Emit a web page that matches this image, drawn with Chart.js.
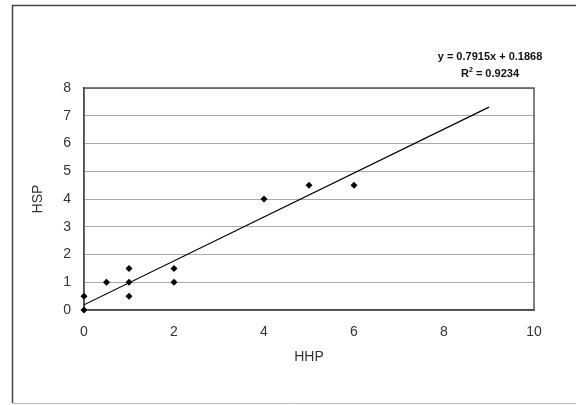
<!DOCTYPE html>
<html>
<head>
<meta charset="utf-8">
<script src="https://cdn.jsdelivr.net/npm/chart.js@4/dist/chart.umd.min.js"></script>
<style>
  html, body { margin: 0; padding: 0; background: #fff; }
  #wrap { width: 576px; height: 405px; position: relative; }
</style>
</head>
<body>
<div id="wrap"><canvas id="myChart"></canvas></div>
<script>
// observed points (HHP, HSP)
const hhp = [0, 0, 0.5, 1, 1, 1, 2, 2, 4, 5, 6];
const hsp = [0, 0.5, 1, 1.5, 1, 0.5, 1.5, 1, 4, 4.5, 4.5];

// fitted line as printed on the chart
const slope = 0.7915;
const intercept = 0.1868;
const r2 = 0.9234;
const trendX = [0, 9];

const xTicks = [0, 2, 4, 6, 8, 10];
const yTicks = [0, 1, 2, 3, 4, 5, 6, 7, 8];

const points = hhp.map((x, i) => ({ x: x, y: hsp[i] }));
const trend = trendX.map(x => ({ x: x, y: slope * x + intercept }));

const FONT = '"Liberation Sans", Arial, sans-serif';

// outer frame, plot box and the equation label
const decor = {
  id: 'decor',
  beforeDraw(c) {
    const ctx = c.ctx;
    ctx.save();
    ctx.fillStyle = '#fff';
    ctx.fillRect(0, 0, c.width, c.height);
    ctx.strokeStyle = '#444';
    ctx.lineWidth = 1.5;
    ctx.beginPath();
    ctx.moveTo(12.5, 403);
    ctx.lineTo(12.5, 5.5);
    ctx.lineTo(590, 5.5);
    ctx.stroke();
    ctx.strokeStyle = '#bbb';
    ctx.lineWidth = 1;
    ctx.beginPath();
    ctx.moveTo(12.5, 403.5);
    ctx.lineTo(590, 403.5);
    ctx.stroke();
    ctx.restore();
  },
  beforeDatasetsDraw(c) {
    const ctx = c.ctx;
    const a = c.chartArea;
    ctx.save();
    ctx.strokeStyle = '#555';
    ctx.lineWidth = 1.5;
    ctx.strokeRect(a.left, a.top, a.right - a.left, a.bottom - a.top);
    ctx.restore();
  },
  afterDatasetsDraw(c) {
    const ctx = c.ctx;
    ctx.save();
    ctx.fillStyle = '#111';
    ctx.font = 'bold 11px ' + FONT;
    ctx.textBaseline = 'middle';
    ctx.textAlign = 'center';
    ctx.fillText('y = ' + slope + 'x + ' + intercept, 490, 57);
    const rest = ' = ' + r2;
    const wR = ctx.measureText('R').width;
    const wRest = ctx.measureText(rest).width;
    ctx.font = 'bold 7px ' + FONT;
    const wSup = ctx.measureText('2').width;
    const total = wR + wSup + wRest;
    let x0 = 490 - total / 2;
    ctx.textAlign = 'left';
    ctx.font = 'bold 11px ' + FONT;
    ctx.fillText('R', x0, 74);
    ctx.font = 'bold 7px ' + FONT;
    ctx.fillText('2', x0 + wR, 70);
    ctx.font = 'bold 11px ' + FONT;
    ctx.fillText(rest, x0 + wR + wSup, 74);
    ctx.restore();
  }
};

const ctx = document.getElementById('myChart').getContext('2d');
new Chart(ctx, {
  type: 'scatter',
  data: {
    datasets: [
      {
        label: 'HSP',
        data: points,
        pointStyle: 'rectRot',
        pointRadius: 3.5,
        backgroundColor: '#000',
        borderColor: '#000',
        borderWidth: 0,
        clip: false,
        order: 1
      },
      {
        label: 'Linear',
        type: 'line',
        data: trend,
        borderColor: '#000',
        borderWidth: 1.2,
        pointRadius: 0,
        fill: false,
        order: 2
      }
    ]
  },
  options: {
    responsive: true,
    maintainAspectRatio: false,
    animation: false,
    layout: { padding: { top: 88, right: 42, left: 0, bottom: 0 } },
    plugins: {
      legend: { display: false },
      tooltip: { enabled: false }
    },
    scales: {
      x: {
        type: 'linear',
        min: 0,
        max: 10,
        afterFit: s => { s.height = 95; },
        afterBuildTicks: s => { s.ticks = xTicks.map(v => ({ value: v })); },
        border: { display: true, color: '#333', width: 1.5 },
        grid: { display: false, drawTicks: false },
        ticks: { color: '#333', padding: 14, font: { family: FONT, size: 14 } },
        title: {
          display: true,
          text: 'HHP',
          color: '#333',
          font: { family: FONT, size: 14 },
          padding: { top: 0, bottom: 39 }
        }
      },
      y: {
        type: 'linear',
        min: 0,
        max: 8,
        afterFit: s => { s.width = 84; },
        afterBuildTicks: s => { s.ticks = yTicks.map(v => ({ value: v })); },
        border: { display: true, color: '#333', width: 1.5 },
        grid: { color: '#a8a8a8', lineWidth: 1, drawTicks: false },
        ticks: { color: '#333', padding: 13, font: { family: FONT, size: 14 } },
        title: {
          display: true,
          text: 'HSP',
          color: '#333',
          font: { family: FONT, size: 14 },
          padding: { top: 30, bottom: 0 }
        }
      }
    }
  },
  plugins: [decor]
});
</script>
</body>
</html>
